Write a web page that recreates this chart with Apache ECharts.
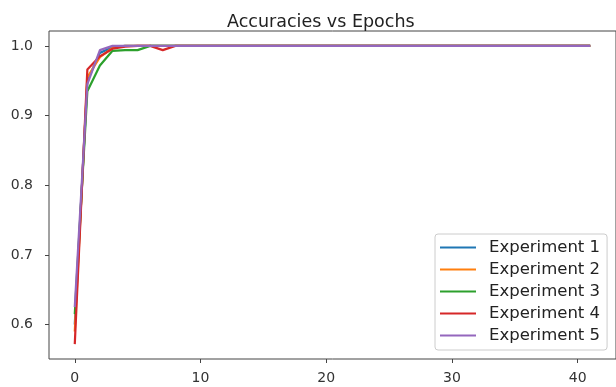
<!DOCTYPE html>
<html>
<head>
<meta charset="utf-8">
<script src="https://cdn.jsdelivr.net/npm/echarts@6/dist/echarts.min.js"></script>
<style>html,body{margin:0;padding:0;background:#fff}#c{width:616px;height:387px}</style>
</head>
<body>
<div id="c"></div>
<script>
var epochs = [];
for (var i = 0; i <= 41; i++) epochs.push(i);
function tail(arr) { while (arr.length < 42) arr.push(1.0); return arr; }
var exp1 = tail([0.600, 0.950, 0.990, 0.998, 1.000]);
var exp2 = tail([0.590, 0.955, 0.984, 0.997, 1.000]);
var exp3 = tail([0.615, 0.935, 0.972, 0.993, 0.994, 0.994, 1.000]);
var exp4 = tail([0.572, 0.966, 0.985, 0.996, 0.999, 1.000, 1.000, 0.994, 1.000]);
var exp5 = tail([0.625, 0.945, 0.994, 1.000, 1.000]);
var seriesNames = ['Experiment 1', 'Experiment 2', 'Experiment 3', 'Experiment 4', 'Experiment 5'];
var seriesValues = [exp1, exp2, exp3, exp4, exp5];
var colors = ['#1f77b4', '#ff7f0e', '#2ca02c', '#d62728', '#9467bd'];
var xTicks = [0, 10, 20, 30, 40];
var yTicks = [0.6, 0.7, 0.8, 0.9, 1.0];
var titleText = 'Accuracies vs Epochs';

var font = 'DejaVu Sans';
var chart = echarts.init(document.getElementById('c'), null, {renderer: 'canvas'});
chart.setOption({
  animation: false,
  backgroundColor: '#fff',
  color: colors,
  title: {
    text: titleText, left: 222, top: 8,
    textStyle: {fontFamily: font, fontSize: 17.5, fontWeight: 'normal', color: '#222'}
  },
  grid: {left: 49, width: 570, top: 31, height: 328, show: true, borderColor: '#444', borderWidth: 1, backgroundColor: '#fff'},
  xAxis: {
    type: 'value', min: -2.05, max: 43.05,
    splitLine: {show: false},
    axisLine: {show: false, onZero: false},
    axisTick: {show: true, length: 4, lineStyle: {color: '#444'}, customValues: xTicks},
    axisLabel: {customValues: xTicks, fontFamily: font, fontSize: 14, color: '#333', margin: 12,
      formatter: function (v) { return String(v); }}
  },
  yAxis: {
    type: 'value', min: 0.5506, max: 1.0214,
    splitLine: {show: false},
    axisLine: {show: false, onZero: false},
    axisTick: {show: true, length: 4, lineStyle: {color: '#444'}, customValues: yTicks},
    axisLabel: {customValues: yTicks, fontFamily: font, fontSize: 14, color: '#333', margin: 16,
      formatter: function (v) { return v.toFixed(1); }}
  },
  legend: {
    orient: 'vertical', left: 435, top: 234,
    data: seriesNames.map(function (n) { return {name: n, icon: 'rect'}; }),
    itemWidth: 36, itemHeight: 2, itemGap: 5,
    padding: [5, 7, 6, 5],
    backgroundColor: '#fff', borderColor: '#ccc', borderWidth: 1, borderRadius: 3,
    textStyle: {fontFamily: font, fontSize: 16.5, color: '#222', padding: [0, 0, 0, 8]}
  },
  series: seriesNames.map(function (n, k) {
    return {
      name: n, type: 'line', showSymbol: false, symbol: 'none',
      lineStyle: {width: 2.2},
      data: epochs.map(function (e, j) { return [e, seriesValues[k][j]]; })
    };
  })
});
</script>
</body>
</html>
